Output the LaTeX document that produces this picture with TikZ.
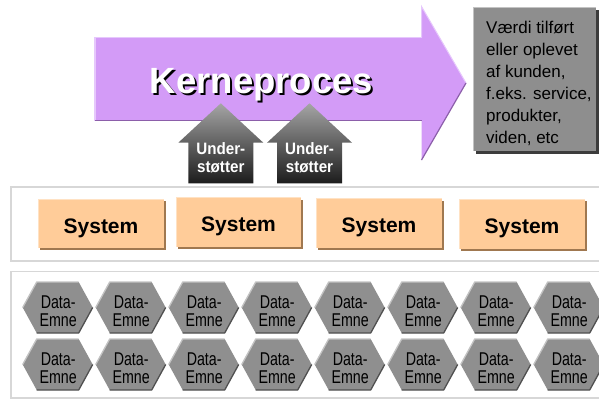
\documentclass[tikz,border=0pt]{standalone}
\usepackage{fontspec}
\setmainfont{Liberation Sans}
\newfontfamily\narrowsans[FakeStretch=0.77]{Liberation Sans}
\newfontfamily\semisans[FakeStretch=0.92]{Liberation Sans}

\definecolor{procfill}{RGB}{211,155,247}
\definecolor{proclight}{RGB}{230,200,252}
\definecolor{procdark}{RGB}{140,95,170}
\definecolor{valuefill}{RGB}{142,142,142}
\definecolor{valueshadow}{RGB}{60,60,60}
\definecolor{sysfill}{RGB}{255,204,153}
\definecolor{syslight}{RGB}{255,226,196}
\definecolor{sysdark}{RGB}{160,120,80}
\definecolor{bandline}{RGB}{215,215,215}
\definecolor{hexfill}{RGB}{143,143,143}
\definecolor{hexlight}{RGB}{195,195,195}
\definecolor{hexdark}{RGB}{80,80,80}
\definecolor{supporttop}{RGB}{165,165,165}
\definecolor{supportbottom}{RGB}{28,28,28}

\tikzset{
  band/.style={draw=bandline, line width=1.5bp, fill=white},
  bigtext/.style={inner sep=0pt, anchor=base,
    font=\fontsize{36.5bp}{40bp}\selectfont\bfseries},
  supporttext/.style={inner sep=0pt, anchor=base, align=center, text=white,
    font=\fontsize{16.5bp}{18bp}\selectfont\semisans\bfseries},
  valuetext/.style={inner sep=0pt, anchor=base west, align=left,
    font=\fontsize{17bp}{22bp}\selectfont},
  systext/.style={inner sep=0pt, anchor=base,
    font=\fontsize{21bp}{24bp}\selectfont\bfseries},
  datatext/.style={inner sep=0pt, anchor=base, align=center,
    font=\fontsize{18.5bp}{18.4bp}\selectfont\narrowsans},
}

\begin{document}
\begin{tikzpicture}[x=1bp,y=-1bp]
\useasboundingbox (0,0) rectangle (599,401);
\clip (0,0) rectangle (599,401);

% background bands
\path[band] (11,187) rectangle (605,261);
\path[band] (11,271.5) rectangle (605,398);

% core process arrow
\fill[procfill] (95,37.5) -- (421.5,37.5) -- (421.5,6.5) -- (466,83)
  -- (421.5,160) -- (421.5,120.5) -- (95,120.5) -- cycle;
\draw[proclight, line width=1.2bp] (95,120.5) -- (95,37.5) -- (421.5,37.5);
\draw[proclight, line width=1bp] (421.5,37.5) -- (421.5,6.5) -- (466,83);
\draw[procdark, line width=1.5bp] (95,120.5) -- (421.5,120.5);
\draw[procdark, line width=1.2bp] (466,83) -- (421.5,160);
\node[bigtext, text=black] (coreshadow) at (263.5,95.5) {Kerneproces};
\node[bigtext, text=white] (core) at (261.5,93.3) {Kerneproces};

% support arrows (node base is the last line's baseline)
\foreach \i/\cx in {1/220.8, 2/309.5} {
  \shade[top color=supporttop, bottom color=supportbottom]
    (\cx-42.5,142.7) -- (\cx,103.3) -- (\cx+42.5,142.7) -- (\cx+32.5,142.7)
    -- (\cx+32.5,183.3) -- (\cx-32.5,183.3) -- (\cx-32.5,142.7) -- cycle;
  \node[supporttext] (support\i) at (\cx,172.3) {Under-\\støtter};
}

% value box
\fill[valueshadow] (476,10) rectangle (598.5,154);
\fill[valuefill] (473,7) rectangle (595.5,151);
\draw[hexlight, line width=1bp] (473,151) -- (473,7) -- (595.5,7);
\node[valuetext] (value) at (486,143.3)
  {Værdi tilført\\eller oplevet\\af kunden,\\f.eks. service,\\produkter,\\viden, etc};

% systems
\foreach \i/\xa/\xb/\ya/\yb/\bl in {1/38/166/199/250/233.2, 2/176/303/197.5/248.5/231.8,
    3/316/444/198.5/249.5/232.5, 4/459/587/199/251/233.2} {
  \fill[sysdark] (\xa+2,\ya+2) rectangle (\xb,\yb);
  \fill[sysfill] (\xa,\ya) rectangle (\xb-2,\yb-2);
  \draw[syslight, line width=1bp] (\xa,\yb-2) -- (\xa,\ya) -- (\xb-2,\ya);
  \node[systext] (sys\i) at ({(\xa+\xb)/2-1},\bl) {System};
}

% data subjects
\foreach \r/\cy in {1/307.5, 2/364.5} {
  \foreach \c in {0,...,7} {
    \pgfmathsetmacro\cx{57.7+73*\c}
    \fill[hexfill] (\cx-35,\cy) -- (\cx-21,\cy-25.5) -- (\cx+21,\cy-25.5)
      -- (\cx+35,\cy) -- (\cx+21,\cy+25.5) -- (\cx-21,\cy+25.5) -- cycle;
    \draw[hexlight, line width=1.3bp, line join=round]
      (\cx-35,\cy) -- (\cx-21,\cy-25.5) -- (\cx+21,\cy-25.5);
    \draw[hexdark, line width=1.3bp, line join=round]
      (\cx+35,\cy) -- (\cx+21,\cy+25.5) -- (\cx-21,\cy+25.5);
    \node[datatext] (data\r-\c) at (\cx+0.5,\cy+19.1) {Data-\\Emne};
  }
}
\end{tikzpicture}
\end{document}
